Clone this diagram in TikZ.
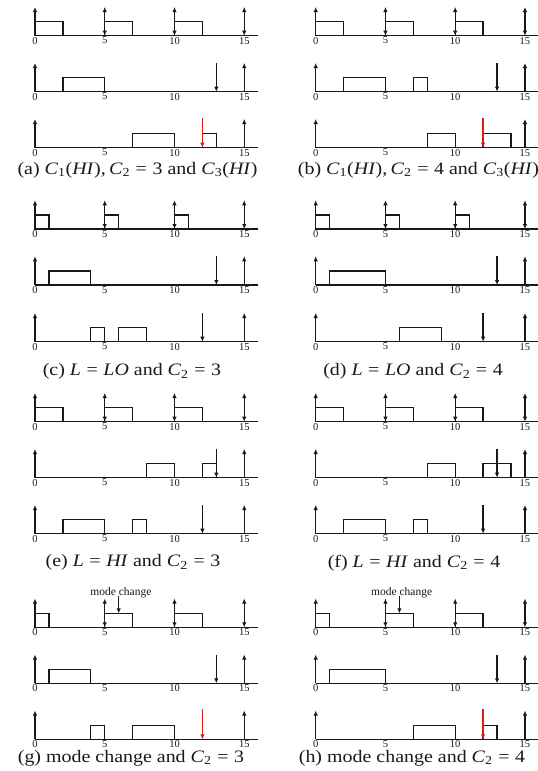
\documentclass[tikz,border=0pt]{standalone}
\usepackage{fontspec}
\setmainfont{Liberation Serif}
\usetikzlibrary{arrows.meta}
\definecolor{redarrow}{RGB}{210,30,30}
\definecolor{inkline}{RGB}{25,25,25}
\tikzset{
  axisline/.style={line width=1.4pt, inkline},
  jobbox/.style={line width=1.25pt, inkline},
  uparr/.style={line width=1.25pt, inkline, -{Latex[length=5pt,width=4.5pt]}},
  dblarr/.style={line width=1.25pt, inkline, {Latex[length=5pt,width=4.5pt]}-{Latex[length=5pt,width=4.5pt]}},
  redarr/.style={line width=1.4pt, redarrow, -{Latex[length=5pt,width=4.5pt]}},
  ticklbl/.style={font=\fontsize{10.5}{10.5}\selectfont, anchor=north, inner sep=0pt, yshift=-1.2pt, text=inkline},
  captext/.style={font=\fontsize{17.5}{19}\selectfont, inner sep=0pt, text=inkline},
  mclbl/.style={font=\fontsize{11.5}{11.5}\selectfont, inner sep=0pt, text=inkline},
}
% one time line: #1 x of t=0 (px), #2 y of axis (px), #3 content
\newcommand\trow[3]{%
  \begin{scope}[shift={(#1pt,-#2pt)},x=13.95pt,y=14pt]
    \draw[axisline] (0,0) -- (16,0);
    \foreach \t in {0,5,10,15} \node[ticklbl] (tk\t) at (\t,0) {\t};
    #3
  \end{scope}}
\newcommand\jb[2]{\draw[jobbox] (#1,0) rectangle (#2,1);}
\newcommand\upa[1]{\draw[uparr] (#1,0) -- (#1,2.05);}
\newcommand\dna[1]{\draw[uparr] (#1,2.05) -- (#1,0);}
\newcommand\uda[1]{\draw[dblarr] (#1,0) -- (#1,2.05);}
\newcommand\rda[1]{\draw[redarr] (#1,2.15) -- (#1,0);}
\newcommand\toprow[3]{\trow{#1}{#2}{#3\upa{0}\uda{5}\uda{10}\uda{15}}}
\newcommand\lowrow[4]{\trow{#1}{#2}{#4\upa{0}\upa{15}#3}}
\newcommand\Cv[1]{\textit{C}\textsubscript{#1}}
\newcommand\eqs{\hspace{0.28em}=\hspace{0.28em}}
\newcommand\capwide[1]{\scalebox{1.14}[1]{#1}}

\begin{document}
\begin{tikzpicture}[x=1pt,y=-1pt]
\path[use as bounding box] (0,0) rectangle (538,771);
\fill[white] (0,0) rectangle (538,771);

% ---------- (a) ----------
\toprow{35}{35.7}{\jb{0}{2}\jb{5}{7}\jb{10}{12}}
\lowrow{35}{91.7}{\dna{13}}{\jb{2}{5}}
\lowrow{35}{147.7}{\rda{12}}{\jb{7}{10}\jb{12}{13}}
\node[captext] (capA) at (137.5,170) {\capwide{(a) \Cv{1}(\textit{HI}),\,\Cv{2}\eqs 3 and \Cv{3}(\textit{HI})}};

% ---------- (b) ----------
\toprow{315.7}{35.7}{\jb{0}{2}\jb{5}{7}\jb{10}{12}}
\lowrow{315.7}{91.7}{\dna{13}}{\jb{2}{5}\jb{7}{8}}
\lowrow{315.7}{147.7}{\rda{12}}{\jb{8}{10}\jb{12}{14}}
\node[captext] (capB) at (418.5,170) {\capwide{(b) \Cv{1}(\textit{HI}),\,\Cv{2}\eqs 4 and \Cv{3}(\textit{HI})}};

% ---------- (c) ----------
\toprow{35}{229}{\jb{0}{1}\jb{5}{6}\jb{10}{11}}
\lowrow{35}{285}{\dna{13}}{\jb{1}{4}}
\lowrow{35}{341.7}{\dna{12}}{\jb{4}{5}\jb{6}{8}}
\node[captext] (capC) at (132,371.7) {\capwide{(c) \textit{L}\eqs\textit{LO} and \Cv{2}\eqs 3}};

% ---------- (d) ----------
\toprow{315.7}{229}{\jb{0}{1}\jb{5}{6}\jb{10}{11}}
\lowrow{315.7}{285}{\dna{13}}{\jb{1}{5}}
\lowrow{315.7}{341.7}{\dna{12}}{\jb{6}{9}}
\node[captext] (capD) at (413,371.7) {\capwide{(d) \textit{L}\eqs\textit{LO} and \Cv{2}\eqs 4}};

% ---------- (e) ----------
\toprow{35}{421.7}{\jb{0}{2}\jb{5}{7}\jb{10}{12}}
\lowrow{35}{477.7}{\dna{13}}{\jb{8}{10}\jb{12}{13}}
\lowrow{35}{533.7}{\dna{12}}{\jb{2}{5}\jb{7}{8}}
\node[captext] (capE) at (133,562.7) {\capwide{(e) \textit{L}\eqs\textit{HI} and \Cv{2}\eqs 3}};

% ---------- (f) ----------
\toprow{315.7}{421.7}{\jb{0}{2}\jb{5}{7}\jb{10}{12}}
\lowrow{315.7}{477.7}{\dna{13}}{\jb{8}{10}\jb{12}{14}}
\lowrow{315.7}{533.7}{\dna{12}}{\jb{2}{5}\jb{7}{8}}
\node[captext] (capF) at (414,562.7) {\capwide{(f) \textit{L}\eqs\textit{HI} and \Cv{2}\eqs 4}};

% ---------- (g) ----------
\toprow{35}{627.3}{\jb{0}{1}\jb{5}{7}\jb{10}{12}
  \node[mclbl] (mcG) at (6.16,2.47) {mode change};
  \draw[uparr] (6,2.24) -- (6,1);}
\lowrow{35}{683.3}{\dna{13}}{\jb{1}{4}}
\lowrow{35}{739.3}{\rda{12}}{\jb{4}{5}\jb{7}{10}}
\node[captext] (capG) at (131,758) {\capwide{(g) mode change and \Cv{2}\eqs 3}};

% ---------- (h) ----------
\toprow{315.7}{627.3}{\jb{0}{1}\jb{5}{7}\jb{10}{12}
  \node[mclbl] (mcH) at (6.16,2.47) {mode change};
  \draw[uparr] (6,2.24) -- (6,1);}
\lowrow{315.7}{683.3}{\dna{13}}{\jb{1}{5}}
\lowrow{315.7}{739.3}{\rda{12}}{\jb{7}{10}\jb{12}{13}}
\node[captext] (capH) at (412,758) {\capwide{(h) mode change and \Cv{2}\eqs 4}};
\end{tikzpicture}
\end{document}
